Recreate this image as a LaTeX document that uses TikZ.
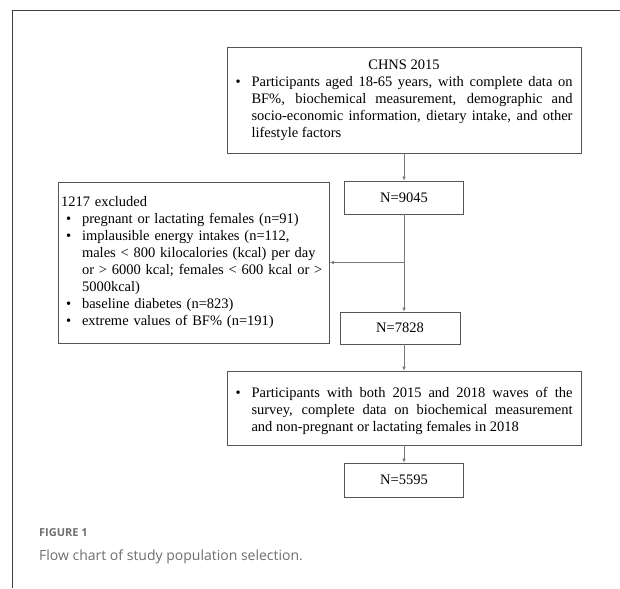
\documentclass[tikz,border=0pt]{standalone}
\usepackage{fontspec}
\setmainfont{Liberation Serif}
\newfontfamily\capfont{Open Sans}
\usepackage{enumitem}
\setlist[itemize]{nosep, label=\textbullet, labelwidth=16pt, labelsep=0pt, align=left, leftmargin=16pt}
\usetikzlibrary{arrows.meta}
\definecolor{boxline}{HTML}{555555}
\definecolor{arrline}{HTML}{7A7A7A}
\definecolor{capgray}{HTML}{6E6E6E}
\tikzset{
  box/.style={draw=boxline, line width=.8pt, inner sep=0pt, font=\fontsize{14.5}{17}\selectfont},
  nbox/.style={box, minimum width=119pt, minimum height=33pt},
  flow/.style={->, draw=arrline, line width=.6pt}
}
\begin{document}
\begin{tikzpicture}[x=1pt, y=-1pt, >={Latex[length=4pt,width=3.6pt]}]
\useasboundingbox (0,0) rectangle (620,588);
\draw[black!75, line width=.8pt] (620,10)--(12,10)--(12,588);

\node[box, minimum width=354pt, minimum height=106pt, text width=337pt, align=justify] (chns) at (404,100)
  {{\centering CHNS 2015\par}
   \begin{itemize}
   \item Participants aged 18-65 years, with complete data on\linebreak BF\%, biochemical measurement, demographic and\linebreak socio-economic information, dietary intake, and other\linebreak lifestyle factors
   \end{itemize}};
\node[nbox] (n9045) at (404,197.5) {N=9045};
\node[box, minimum width=271pt, minimum height=161pt, text width=266pt, align=left] (excl) at (194,262.5)
  {1217 excluded
   \begin{itemize}[leftmargin=21pt]
   \item pregnant or lactating females (n=91)
   \item implausible energy intakes (n=112,\newline males < 800 kilocalories (kcal) per day\newline or > 6000 kcal; females < 600 kcal or >\newline 5000kcal)
   \item baseline diabetes (n=823)
   \item extreme values of BF\% (n=191)
   \end{itemize}};
\node[nbox, minimum width=120pt, minimum height=32pt] (n7828) at (400,328) {N=7828};
\node[box, minimum width=354pt, minimum height=74pt, text width=337pt, align=justify] (waves) at (404,408)
  {\begin{itemize}
   \item Participants with both 2015 and 2018 waves of the\linebreak survey, complete data on biochemical measurement\linebreak and non-pregnant or lactating females in 2018
   \end{itemize}};
\node[nbox, minimum height=34pt] (n5595) at (404,480) {N=5595};

\draw[flow] (chns) -- (n9045);
\draw[flow] (n9045) -- (n9045 |- n7828.north);
\coordinate (split) at (n9045.south |- excl.east);
\draw[flow] (split) -- (excl.east);
\draw[flow] (chns.south |- n7828.south) -- (waves);
\draw[flow] (waves) -- (n5595);

\node[anchor=base west, inner sep=0pt, text=capgray, font=\capfont\bfseries\fontsize{11}{13}\selectfont] (fig) at (39,536) {FIGURE 1};
\node[anchor=base west, inner sep=0pt, text=capgray, font=\capfont\fontsize{14}{17}\selectfont] (cap) at (39,560) {Flow chart of study population selection.};
\end{tikzpicture}
\end{document}
